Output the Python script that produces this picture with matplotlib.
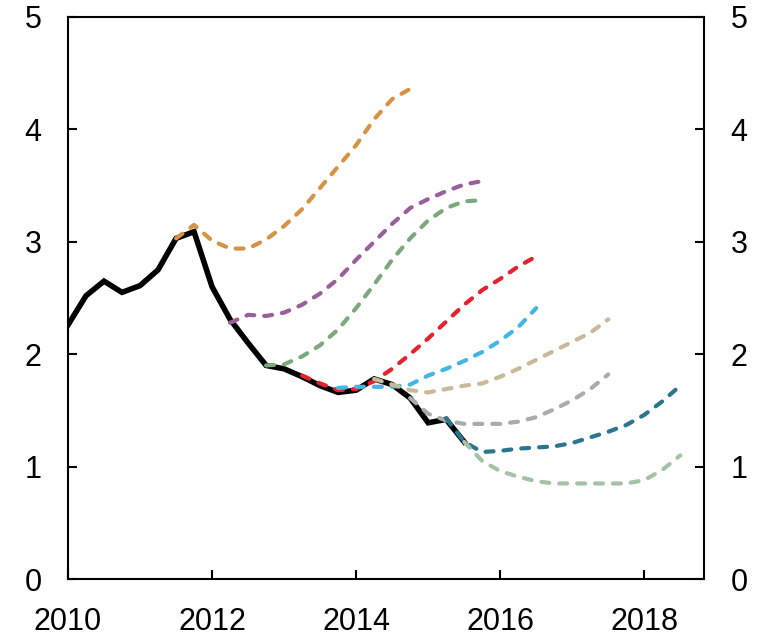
import numpy as np
import matplotlib.pyplot as plt

plt.rcParams['font.family'] = ['Liberation Sans', 'DejaVu Sans']

# quarterly index -> year
def qyear(i0, n):
    return 2010 + (i0 + np.arange(n)) / 4.0

actual = [2.26, 2.52, 2.65, 2.55, 2.61, 2.75, 3.03, 3.09, 2.60, 2.31, 2.10, 1.90,
          1.87, 1.80, 1.72, 1.66, 1.68, 1.78, 1.73, 1.61, 1.39, 1.42, 1.22]

# (start quarter index, values, colour)
fc_orange = [3.03, 3.15, 3.01, 2.94, 2.94, 3.02, 3.14, 3.29, 3.48, 3.67, 3.86, 4.09, 4.27, 4.36]
fc_purple = [2.28, 2.35, 2.34, 2.37, 2.44, 2.54, 2.67, 2.84, 3.00, 3.16, 3.30, 3.38, 3.45, 3.51, 3.54]
fc_green = [1.90, 1.91, 1.98, 2.08, 2.22, 2.41, 2.62, 2.84, 3.03, 3.19, 3.30, 3.36, 3.37]
fc_red = [1.81, 1.74, 1.68, 1.69, 1.76, 1.87, 2.00, 2.14, 2.29, 2.44, 2.57, 2.67, 2.78, 2.87]
fc_blue = [1.70, 1.71, 1.71, 1.71, 1.73, 1.81, 1.87, 1.94, 2.02, 2.12, 2.24, 2.41]
fc_tan = [1.78, 1.73, 1.68, 1.66, 1.69, 1.72, 1.74, 1.80, 1.87, 1.95, 2.03, 2.11, 2.19, 2.31]
fc_grey = [1.61, 1.47, 1.41, 1.38, 1.38, 1.38, 1.40, 1.44, 1.51, 1.59, 1.69, 1.82]
fc_teal = [1.43, 1.22, 1.13, 1.14, 1.16, 1.17, 1.18, 1.21, 1.26, 1.31, 1.37, 1.46, 1.58, 1.72]
fc_lgreen = [1.22, 1.05, 0.96, 0.91, 0.87, 0.85, 0.85, 0.85, 0.85, 0.85, 0.88, 0.97, 1.10]

forecasts = [
    (6, fc_orange, '#D69343'),
    (9, fc_purple, '#9A5E9C'),
    (11, fc_green, '#7BA87C'),
    (13, fc_red, '#E5222D'),
    (15, fc_blue, '#43B5E5'),
    (17, fc_tan, '#C8BA96'),
    (19, fc_grey, '#A8ABAF'),
    (21, fc_teal, '#2A7590'),
    (22, fc_lgreen, '#A4C3A5'),
]

fig = plt.figure(figsize=(7.58, 6.36), dpi=100)
ax = fig.add_axes([0.0897, 0.0896, 0.8391, 0.8837])

ax.plot(qyear(0, len(actual)), actual, color='black', lw=4.0,
        solid_joinstyle='miter', zorder=2)

for i0, vals, col in forecasts:
    ax.plot(qyear(i0, len(vals)), vals, color=col, lw=3.0,
            dashes=(1.9, 2.4), dash_capstyle='round', zorder=3)

ax.set_xlim(2010, 2018.83)
ax.set_ylim(0, 5)
ax.set_xticks([2010, 2012, 2014, 2016, 2018])
ax.set_yticks([0, 1, 2, 3, 4, 5])

for s in ax.spines.values():
    s.set_linewidth(1.5)

ax.tick_params(axis='both', direction='in', length=6.5, width=1.5,
               labelsize=22)
ax.tick_params(axis='y', right=True, labelright=True, pad=19)
ax.tick_params(axis='x', pad=20)

fig.savefig('out.png', dpi=100)
